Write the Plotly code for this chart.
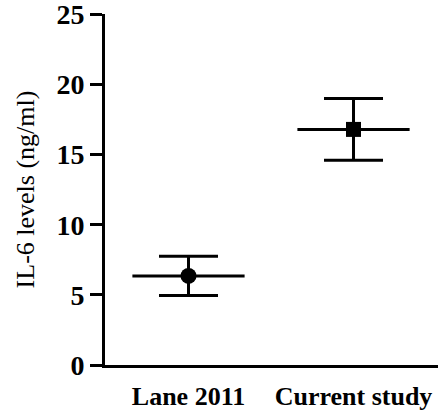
import plotly.graph_objects as go

# Study groups and their IL-6 summary values (mean ± SD, ng/ml)
groups = ["Lane 2011", "Current study"]
means = [6.35, 16.8]
sds = [1.4, 2.2]
symbols = ["circle", "square"]

y_ticks = [0, 5, 10, 15, 20, 25]

MEAN_HALF_WIDTH = 0.34   # half-length of the horizontal mean line (x units)
LINE_W = 3

fig = go.Figure()
for i, (g, m, s, sym) in enumerate(zip(groups, means, sds, symbols)):
    fig.add_trace(go.Scatter(
        x=[i], y=[m],
        mode="markers",
        marker=dict(symbol=sym, size=16 if sym == "circle" else 15, color="black"),
        error_y=dict(type="data", array=[s], symmetric=True,
                     color="black", thickness=LINE_W, width=29.5),
        error_x=dict(type="data", array=[MEAN_HALF_WIDTH], symmetric=True,
                     color="black", thickness=LINE_W, width=0),
        showlegend=False,
        hoverinfo="skip",
    ))

fig.update_layout(
    width=448, height=415,
    margin=dict(l=105, r=10, t=14, b=50),
    paper_bgcolor="white", plot_bgcolor="white",
    font=dict(family="Liberation Serif", color="black"),
)

fig.update_xaxes(
    range=[-0.506, 1.512],
    tickvals=list(range(len(groups))), ticktext=groups,
    tickfont=dict(family="Liberation Serif", size=26, weight="bold", color="black"),
    showline=True, linecolor="black", linewidth=LINE_W,
    ticks="", showgrid=False, zeroline=False,
    ticklabelstandoff=6, automargin=False,
)

fig.update_yaxes(
    range=[0, 25.03],
    tickvals=y_ticks, ticktext=[str(v) for v in y_ticks],
    tickfont=dict(family="Liberation Serif", size=28, weight="bold", color="black"),
    showline=True, linecolor="black", linewidth=LINE_W,
    ticks="outside", ticklen=12, tickwidth=LINE_W, tickcolor="black",
    showgrid=False, zeroline=False, automargin=False,
    ticklabeloverflow="allow",
    title=dict(text="IL-6 levels (ng/ml)",
               font=dict(family="Liberation Serif", size=26, color="black"),
               standoff=15),
)

fig.write_html("out.html")
